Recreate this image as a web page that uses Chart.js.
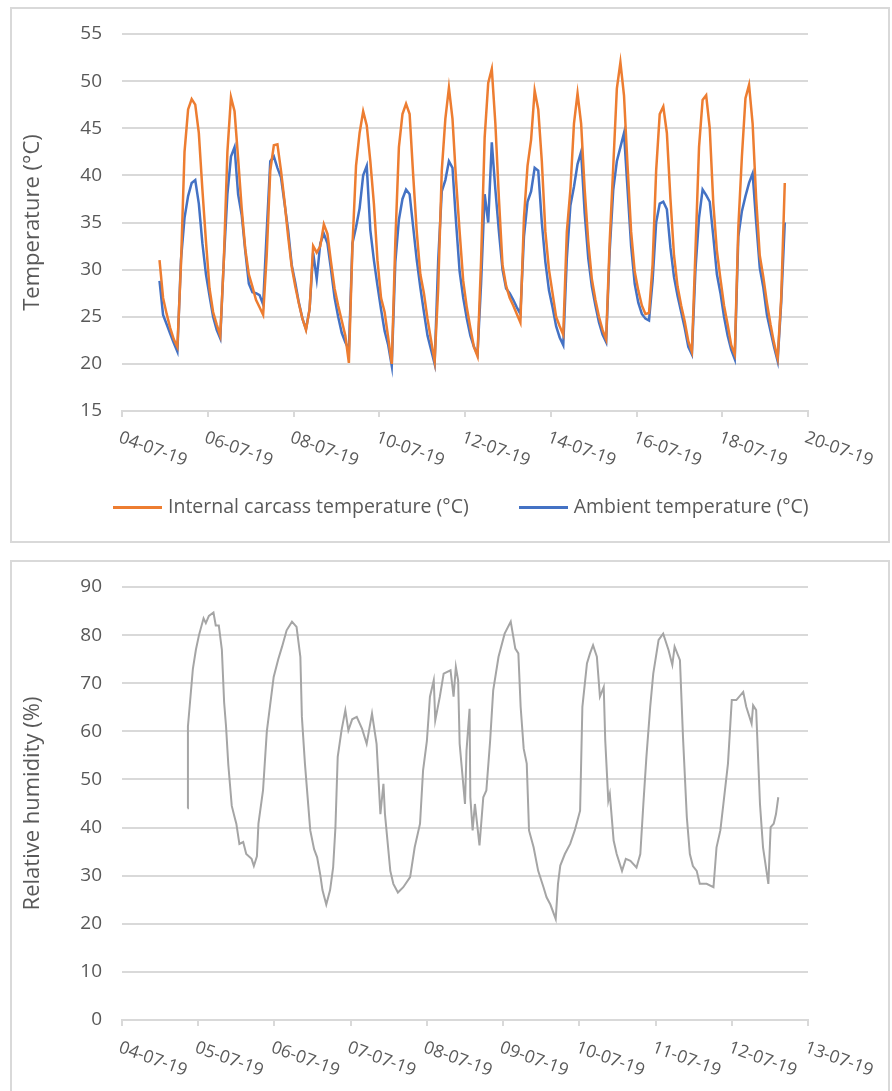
<!DOCTYPE html>
<html>
<head>
<meta charset="utf-8">
<script src="https://cdn.jsdelivr.net/npm/chart.js@4.4.1/dist/chart.umd.min.js"></script>
<style>
  body { margin: 0; background: #fff; width: 892px; height: 1091px; overflow: hidden; position: relative; }
  .panel { position: absolute; left: 10px; width: 880px; border: 2px solid #d9d9d9; box-sizing: border-box; }
  #panelTemp { top: 7px; height: 536px; }
  #panelRh { top: 560px; height: 600px; }
  canvas { position: absolute; left: 0; }
  #tempChart { top: 0; }
  #rhChart { top: 551px; }
  .legend { position: absolute; top: 494px; left: 113px; display: flex; gap: 50px; white-space: nowrap;
            font: 19.5px "Open Sans", sans-serif; color: #595959; line-height: 24px; }
  .legend__line { display: inline-block; width: 49px; height: 3px; margin-right: 6px; vertical-align: middle; }
</style>
</head>
<body>
<div class="panel" id="panelTemp"></div>
<div class="panel" id="panelRh"></div>
<canvas id="tempChart" width="892" height="545"></canvas>
<canvas id="rhChart" width="892" height="540"></canvas>
<div class="legend" id="tempLegend"></div>

<script>
// x values are days after 04-07-19 00:00
const tempTickLabels = ['04-07-19', '06-07-19', '08-07-19', '10-07-19', '12-07-19', '14-07-19', '16-07-19', '18-07-19', '20-07-19'];
const rhTickLabels = ['04-07-19', '05-07-19', '06-07-19', '07-07-19', '08-07-19', '09-07-19', '10-07-19', '11-07-19', '12-07-19', '13-07-19'];

// temperature readings every 2 hours, first one at 21:00 on 04-07-19
const tempStart = 0.875;
const tempStep = 1 / 12;

const internalTemp = [
  31.0, 27.0, 25.3, 23.8, 22.6, 21.8, 30.5, 42.5, 47.0, 48.1, 47.5, 44.5,
  38.5, 33.0, 28.0, 25.5, 24.2, 23.0, 31.0, 42.5, 48.3, 46.8, 41.8, 36.5,
  32.2, 29.5, 28.2, 26.8, 26.0, 25.2, 31.5, 40.5, 43.2, 43.3, 40.5, 37.2,
  33.5, 30.3, 28.2, 26.4, 24.8, 23.6, 25.8, 32.5, 31.8, 32.5, 34.8, 33.8,
  30.8, 28.0, 26.2, 24.6, 23.0, 20.1, 32.5, 41.0, 44.5, 46.8, 45.3, 41.5,
  37.0, 31.0, 27.0, 25.5, 22.8, 20.0, 33.0, 43.0, 46.5, 47.6, 46.5, 40.0,
  34.0, 29.5, 27.5, 24.8, 22.5, 20.3, 28.0, 40.5, 46.0, 49.3, 46.0, 39.5,
  34.0, 28.8, 26.0, 23.8, 21.8, 20.8, 31.0, 44.0, 49.8, 51.3, 45.5, 37.5,
  30.5, 28.3, 27.0, 26.2, 25.3, 24.4, 35.5, 41.0, 43.8, 49.0, 47.0, 41.5,
  34.0, 30.0, 27.5, 25.0, 24.0, 23.1, 34.0, 38.5, 45.5, 48.7, 45.5, 38.5,
  33.0, 29.0, 26.8, 25.0, 23.6, 22.6, 33.0, 41.0, 49.2, 52.0, 48.5, 41.0,
  34.0, 29.8, 27.8, 26.2, 25.3, 25.4, 30.5, 40.5, 46.5, 47.3, 44.5, 37.5,
  31.5, 28.2, 26.2, 24.5, 22.4, 21.3, 32.0, 43.0, 48.0, 48.5, 45.0, 37.0,
  32.0, 29.0, 26.2, 24.2, 22.0, 21.0, 34.5, 42.0, 48.2, 49.6, 45.5, 37.5,
  31.5, 29.2, 26.5, 24.2, 22.2, 20.6, 27.0, 39.2
];

const ambientTemp = [
  28.8, 25.2, 24.2, 23.2, 22.2, 21.3, 31.0, 35.5, 37.8, 39.2, 39.5, 37.0,
  32.8, 29.5, 27.2, 25.0, 23.6, 22.7, 31.0, 38.0, 42.0, 43.0, 38.0, 35.8,
  32.0, 28.5, 27.6, 27.5, 27.3, 26.3, 34.0, 41.5, 42.0, 40.8, 39.8, 37.0,
  34.2, 30.5, 28.6, 26.5, 24.8, 23.7, 25.8, 31.8, 29.0, 32.8, 33.8, 32.8,
  30.0, 27.0, 25.0, 23.3, 22.3, 21.5, 32.8, 34.5, 36.5, 40.0, 41.0, 34.2,
  31.0, 28.3, 25.8, 23.5, 22.0, 19.8, 30.8, 35.3, 37.5, 38.5, 38.0, 34.5,
  31.0, 28.1, 25.5, 23.0, 21.5, 20.0, 31.0, 38.3, 39.5, 41.5, 40.8, 35.0,
  29.8, 27.0, 24.8, 23.0, 21.8, 21.0, 28.5, 38.0, 35.0, 43.5, 38.5, 34.0,
  30.0, 28.0, 27.5, 26.8, 26.0, 25.3, 33.5, 37.2, 38.3, 40.8, 40.5, 35.0,
  30.8, 27.8, 26.0, 24.0, 22.8, 22.0, 31.2, 36.8, 38.8, 41.2, 42.5, 36.0,
  31.2, 28.2, 26.2, 24.4, 23.1, 22.3, 32.0, 38.5, 41.5, 43.0, 44.5, 38.5,
  32.5, 28.5, 26.5, 25.3, 24.8, 24.6, 28.8, 35.0, 37.0, 37.2, 36.4, 32.3,
  29.2, 27.2, 25.5, 23.8, 21.8, 21.0, 30.0, 35.5, 38.5, 37.9, 37.2, 33.5,
  29.5, 27.5, 25.0, 23.0, 21.5, 20.5, 33.5, 36.2, 37.8, 39.2, 40.2, 35.0,
  30.2, 28.1, 25.2, 23.5, 21.8, 20.3, 26.5, 35.0
];

const rhDays = [
  0.86, 0.865, 0.93, 0.97, 1.01, 1.07, 1.10, 1.14, 1.20, 1.23,
  1.27, 1.31, 1.34, 1.365, 1.395, 1.44, 1.48, 1.50, 1.54, 1.59,
  1.63, 1.70, 1.73, 1.77, 1.79, 1.85, 1.90, 1.99, 2.05, 2.10,
  2.16, 2.23, 2.29, 2.34, 2.36, 2.40, 2.47, 2.52, 2.56, 2.60,
  2.63, 2.68, 2.73, 2.77, 2.80, 2.83, 2.88, 2.93, 2.97, 3.02,
  3.08, 3.15, 3.21, 3.28, 3.34, 3.39, 3.43, 3.45, 3.52, 3.56,
  3.62, 3.69, 3.78, 3.84, 3.91, 3.95, 4.00, 4.04, 4.09, 4.11,
  4.17, 4.22, 4.31, 4.35, 4.38, 4.41, 4.43, 4.50, 4.52, 4.56,
  4.57, 4.60, 4.63, 4.69, 4.74, 4.78, 4.83, 4.87, 4.94, 5.02,
  5.10, 5.16, 5.20, 5.23, 5.27, 5.31, 5.34, 5.40, 5.46, 5.53,
  5.57, 5.62, 5.69, 5.72, 5.75, 5.81, 5.88, 5.94, 6.01, 6.04,
  6.10, 6.14, 6.18, 6.23, 6.27, 6.32, 6.34, 6.38, 6.40, 6.45,
  6.49, 6.56, 6.61, 6.67, 6.75, 6.80, 6.84, 6.88, 6.93, 6.97,
  7.04, 7.10, 7.17, 7.22, 7.25, 7.32, 7.36, 7.41, 7.45, 7.49,
  7.54, 7.58, 7.67, 7.76, 7.80, 7.85, 7.89, 7.95, 8.00, 8.06,
  8.15, 8.19, 8.26, 8.28, 8.32, 8.37, 8.41, 8.48, 8.51, 8.55,
  8.58, 8.61
];

const rhValues = [
  44, 61, 73, 77, 80, 83.5, 82.5, 84, 84.7, 82,
  82, 77, 66, 61, 53, 44.5, 42, 40.8, 36.6, 37,
  34.5, 33.5, 32, 34, 40.8, 47.7, 60, 71.3, 75, 77.6,
  81, 82.8, 81.7, 75.5, 63, 53.3, 39.4, 35.5, 33.8, 30.3,
  27, 24, 27, 31.7, 40, 54.7, 60.2, 64.4, 60.2, 62.5,
  63, 60.5, 57.4, 63.7, 57.4, 42.8, 49.1, 42.8, 31, 28.3,
  26.5, 27.6, 29.7, 35.9, 40.8, 51.9, 58, 67.2, 70.6, 62.3,
  67.2, 72, 72.7, 67.2, 73.4, 70.6, 57.4, 44.9, 56, 64.7,
  46.3, 39.4, 44.9, 36.3, 46.3, 47.7, 58.1, 68.5, 75.5, 80.3,
  82.8, 77.2, 76.2, 65.1, 56.4, 53.3, 39.4, 35.9, 31, 27.6,
  25.5, 24, 21, 28.3, 32.1, 34.5, 36.6, 39.4, 43.5, 65.1,
  74.1, 76.2, 77.9, 75.5, 67.2, 69.2, 58.1, 45.6, 47, 37.3,
  34.5, 31, 33.5, 33.1, 31.7, 34.5, 44.9, 54.7, 65.1, 72,
  79, 80.3, 76.9, 73.8, 77.6, 74.8, 58.8, 42.2, 34.5, 32,
  31, 28.3, 28.3, 27.6, 35.9, 39.4, 44.9, 53.3, 66.5, 66.5,
  68.2, 65.1, 61.6, 65.4, 64.4, 44.9, 35.9, 28.3, 40.1, 40.8,
  42.8, 46.3
];

Chart.defaults.font.family = '"Open Sans", sans-serif';
Chart.defaults.color = '#595959';
Chart.defaults.animation = false;

// excel style labels: rotated clockwise, starting at the tick
const slantedTicks = {
  id: 'slantedTicks',
  afterDraw(chart, args, opts) {
    const scale = chart.scales.x;
    const ctx = chart.ctx;
    ctx.save();
    ctx.font = '17.5px "Open Sans", sans-serif';
    ctx.fillStyle = '#595959';
    ctx.textAlign = 'left';
    ctx.textBaseline = 'alphabetic';
    scale.ticks.forEach((tick, i) => {
      ctx.save();
      ctx.translate(scale.getPixelForValue(tick.value), scale.top + opts.offset);
      ctx.rotate(20 * Math.PI / 180);
      ctx.fillText(opts.labels[i], 0, 12.5);
      ctx.restore();
    });
    ctx.restore();
  }
};

function toPoints(values, xFor) {
  return values.map((v, i) => ({ x: xFor(i), y: v }));
}

function xAxis(max, step, height) {
  return {
    type: 'linear', min: 0, max: max,
    ticks: { display: false, stepSize: step },
    grid: { drawOnChartArea: false, drawTicks: true, tickLength: 6, color: '#d9d9d9', lineWidth: 2 },
    border: { display: true, color: '#d9d9d9', width: 2 },
    afterFit: scale => { scale.height = height; }
  };
}

function yAxis(min, max, step, title) {
  return {
    min: min, max: max,
    ticks: { stepSize: step, padding: 20, font: { size: 19 }, color: '#595959' },
    grid: { color: '#d9d9d9', lineWidth: 2, drawTicks: false },
    border: { display: false },
    title: { display: true, text: title, color: '#595959', font: { size: 22 }, padding: { top: 20 } },
    afterFit: scale => { scale.width = 122; }
  };
}

const tempChart = new Chart(document.getElementById('tempChart'), {
  type: 'line',
  data: {
    datasets: [{
      label: 'Internal carcass temperature (°C)',
      data: toPoints(internalTemp, i => tempStart + i * tempStep),
      borderColor: '#ed7d31',
      borderWidth: 2.5,
      pointRadius: 0
    }, {
      label: 'Ambient temperature (°C)',
      data: toPoints(ambientTemp, i => tempStart + i * tempStep),
      borderColor: '#4472c4',
      borderWidth: 2.5,
      pointRadius: 0
    }]
  },
  options: {
    responsive: false,
    layout: { padding: { top: 34, right: 84, left: 0, bottom: 0 } },
    plugins: {
      legend: { display: false },
      tooltip: { enabled: false },
      slantedTicks: { labels: tempTickLabels, offset: 19 }
    },
    scales: {
      x: xAxis(16, 2, 134),
      y: yAxis(15, 55, 5, 'Temperature (°C)')
    }
  },
  plugins: [slantedTicks]
});

new Chart(document.getElementById('rhChart'), {
  type: 'line',
  data: {
    datasets: [{
      label: 'Relative humidity (%)',
      data: toPoints(rhValues, i => rhDays[i]),
      borderColor: '#a5a5a5',
      borderWidth: 2,
      pointRadius: 0
    }]
  },
  options: {
    responsive: false,
    layout: { padding: { top: 36, right: 84, left: 0, bottom: 0 } },
    plugins: {
      legend: { display: false },
      tooltip: { enabled: false },
      slantedTicks: { labels: rhTickLabels, offset: 20 }
    },
    scales: {
      x: xAxis(9, 1, 71),
      y: yAxis(0, 90, 10, 'Relative humidity (%)')
    }
  },
  plugins: [slantedTicks]
});

// html legend for the temperature chart
const legendBox = document.getElementById('tempLegend');
tempChart.data.datasets.forEach(ds => {
  const item = document.createElement('span');
  item.innerHTML = `<span class="legend__line" style="background:${ds.borderColor}"></span>${ds.label}`;
  legendBox.appendChild(item);
});
</script>
</body>
</html>
